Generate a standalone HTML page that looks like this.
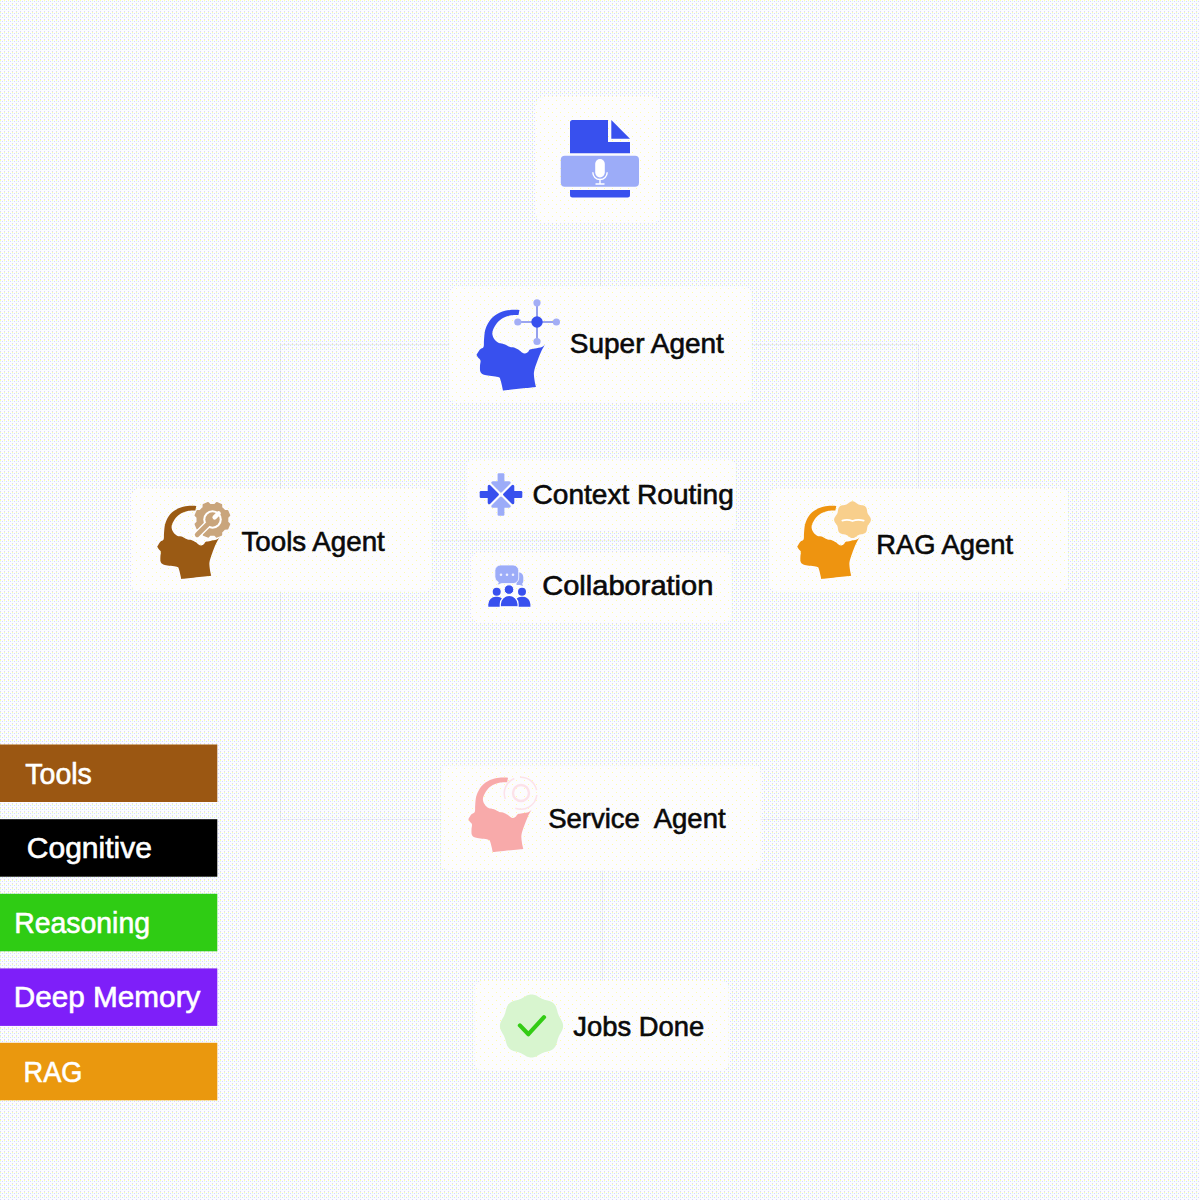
<!DOCTYPE html>
<html lang="en"><head><meta charset="utf-8"><title>Agent Flow</title>
<style>
html,body{margin:0;padding:0;background:#f5f7f9;}
body{width:1200px;height:1200px;overflow:hidden;position:relative;}
svg{display:block;position:absolute;left:0;top:0;}
text{font-family:"Liberation Sans",sans-serif;white-space:pre;}
</style></head><body>
<svg width="1200" height="1200" viewBox="0 0 1200 1200">
<defs>
<pattern id="pb" width="4" height="4" patternUnits="userSpaceOnUse" shape-rendering="crispEdges">
<rect width="4" height="4" fill="#fcfcfe"/>
<rect x="0" y="0" width="1" height="1" fill="#fffcaa"/>
<rect x="0" y="1" width="1" height="1" fill="#d6fdfd"/>
<rect x="2" y="1" width="1" height="1" fill="#d6d6ff"/>
<rect x="0" y="3" width="1" height="1" fill="#d6d6ff"/>
</pattern>
<pattern id="pc" width="8" height="8" patternUnits="userSpaceOnUse" shape-rendering="crispEdges">
<rect width="8" height="8" fill="#fcfcfe"/>
<rect x="0" y="0" width="1" height="1" fill="#fffcaa"/>
<rect x="4" y="4" width="1" height="1" fill="#fffcaa"/>
</pattern>
</defs>
<rect width="1200" height="1200" fill="url(#pb) #f5f7f9"/>

<g fill="none" stroke="rgba(90,105,160,0.09)" stroke-width="1" shape-rendering="crispEdges">
<path d="M600.5,222V287"/>
<path d="M450,344.5H280.5V819.5H442"/>
<path d="M751,344.5H918.5V819.5H760"/>
<path d="M602.5,870V982"/>
<path d="M431,540.5H770" stroke="rgba(90,105,160,0.06)"/>
</g>
<rect x="536" y="97" width="123.8" height="125.5" rx="8" fill="url(#pc) #fcfcfd"/>
<rect x="449.3" y="286.2" width="302.4" height="116.2" rx="8" fill="url(#pc) #fcfcfd"/>
<rect x="131.3" y="488.7" width="300.0" height="103.0" rx="8" fill="url(#pc) #fcfcfd"/>
<rect x="466.7" y="459.6" width="268.7" height="71.2" rx="8" fill="url(#pc) #fcfcfd"/>
<rect x="470.9" y="552.5" width="260.4" height="70.0" rx="8" fill="url(#pc) #fcfcfd"/>
<rect x="769.6" y="488.7" width="297.9" height="103.0" rx="8" fill="url(#pc) #fcfcfd"/>
<rect x="441.3" y="765.4" width="319.5" height="105.0" rx="8" fill="url(#pc) #fcfcfd"/>
<rect x="474.5" y="981" width="254.3" height="89.8" rx="8" fill="url(#pc) #fcfcfd"/>
<g fill="#3850ee">
<path d="M570,122.5a2.5,2.5 0 0 1 2.5,-2.5H608V142H630V153.2H570Z"/>
<path d="M611.3,120L630,138.7H611.3Z"/>
<path d="M570,190H630V195a2.5,2.5 0 0 1 -2.5,2.5H572.5a2.5,2.5 0 0 1 -2.5,-2.5Z"/>
</g>
<rect x="560.8" y="155.8" width="78.2" height="31" rx="4" fill="#9cacf8"/>
<rect x="595.2" y="159" width="9.6" height="18.4" rx="4.8" fill="#fff"/>
<path d="M592.8,172.3a7.2,7.2 0 0 0 14.4,0M600,179.5V183.6M595.5,184H604.5" fill="none" stroke="#fff" stroke-width="1.4"/>
<path transform="translate(460,290) scale(1)" d="M59.5,20.0C59.5,20.0 53.2,19.6 50.0,20.0C46.8,20.4 43.2,21.0 40.0,22.5C36.8,24.0 33.4,26.2 31.0,29.0C28.6,31.8 26.7,35.5 25.5,39.0C24.3,42.5 24.3,47.0 24.0,50.0C23.7,53.0 24.2,55.4 23.5,57.0C22.8,58.6 21.2,58.2 20.0,59.5C18.8,60.8 16.5,65.0 16.5,65.0C16.5,65.0 17.8,67.1 18.5,68.0C19.2,68.9 20.2,69.2 20.5,70.5C20.8,71.8 20.0,74.1 20.0,76.0C20.0,77.9 19.7,80.5 20.5,82.0C21.3,83.5 22.1,84.2 25.0,85.0C27.9,85.8 35.4,86.2 38.0,87.0C40.6,87.8 39.7,87.8 40.5,90.0C41.3,92.2 43.0,100.5 43.0,100.5C43.0,100.5 76.0,97.0 76.0,97.0C76.0,97.0 74.8,92.5 74.5,90.0C74.2,87.5 73.6,85.0 74.0,82.0C74.4,79.0 75.8,75.3 77.0,72.0C78.2,68.7 79.7,64.9 81.0,62.0C82.3,59.1 85.0,54.5 85.0,54.5C85.0,54.5 83.7,56.3 82.0,57.0C80.3,57.7 77.0,58.1 75.0,58.5C73.0,58.9 71.2,58.9 70.0,59.5C68.8,60.1 68.8,61.3 68.0,62.0C67.2,62.7 66.0,63.4 65.0,63.5C64.0,63.6 63.0,63.1 62.0,62.5C61.0,61.9 60.3,60.8 59.0,60.0C57.7,59.2 55.5,58.0 54.0,57.5C52.5,57.0 51.5,57.5 50.0,57.0C48.5,56.5 46.3,55.1 45.0,54.5C43.7,53.9 43.0,53.8 42.0,53.5C41.0,53.2 40.2,53.6 39.0,53.0C37.8,52.4 36.1,51.3 35.0,50.0C33.9,48.7 32.8,46.7 32.5,45.0C32.2,43.3 32.2,42.0 33.0,40.0C33.8,38.0 35.3,35.0 37.0,33.0C38.7,31.0 40.8,29.2 43.0,28.0C45.2,26.8 47.4,26.0 50.0,25.5C52.6,25.0 58.5,25.0 58.5,25.0C58.5,25.0 59.5,20.0 59.5,20.0Z" fill="#3850ee"/>
<g stroke="#7a88ea" stroke-width="1.6"><path d="M518,322H556M537,303V341"/></g>
<g fill="#a3aef5"><circle cx="537" cy="302.8" r="3.6"/><circle cx="517.8" cy="322" r="3.6"/><circle cx="556.4" cy="322" r="3.6"/><circle cx="537" cy="341.5" r="3.6"/></g>
<circle cx="537" cy="322" r="5.7" fill="#3850ee"/>
<text x="569.8" y="352.7" font-size="27.2" textLength="154.1" lengthAdjust="spacingAndGlyphs" fill="#0a0a0a" stroke="#0a0a0a" stroke-width="0.6" >Super Agent</text>
<path transform="translate(142.2,487.7) scale(0.909)" d="M59.5,20.0C59.5,20.0 53.2,19.6 50.0,20.0C46.8,20.4 43.2,21.0 40.0,22.5C36.8,24.0 33.4,26.2 31.0,29.0C28.6,31.8 26.7,35.5 25.5,39.0C24.3,42.5 24.3,47.0 24.0,50.0C23.7,53.0 24.2,55.4 23.5,57.0C22.8,58.6 21.2,58.2 20.0,59.5C18.8,60.8 16.5,65.0 16.5,65.0C16.5,65.0 17.8,67.1 18.5,68.0C19.2,68.9 20.2,69.2 20.5,70.5C20.8,71.8 20.0,74.1 20.0,76.0C20.0,77.9 19.7,80.5 20.5,82.0C21.3,83.5 22.1,84.2 25.0,85.0C27.9,85.8 35.4,86.2 38.0,87.0C40.6,87.8 39.7,87.8 40.5,90.0C41.3,92.2 43.0,100.5 43.0,100.5C43.0,100.5 76.0,97.0 76.0,97.0C76.0,97.0 74.8,92.5 74.5,90.0C74.2,87.5 73.6,85.0 74.0,82.0C74.4,79.0 75.8,75.3 77.0,72.0C78.2,68.7 79.7,64.9 81.0,62.0C82.3,59.1 85.0,54.5 85.0,54.5C85.0,54.5 83.7,56.3 82.0,57.0C80.3,57.7 77.0,58.1 75.0,58.5C73.0,58.9 71.2,58.9 70.0,59.5C68.8,60.1 68.8,61.3 68.0,62.0C67.2,62.7 66.0,63.4 65.0,63.5C64.0,63.6 63.0,63.1 62.0,62.5C61.0,61.9 60.3,60.8 59.0,60.0C57.7,59.2 55.5,58.0 54.0,57.5C52.5,57.0 51.5,57.5 50.0,57.0C48.5,56.5 46.3,55.1 45.0,54.5C43.7,53.9 43.0,53.8 42.0,53.5C41.0,53.2 40.2,53.6 39.0,53.0C37.8,52.4 36.1,51.3 35.0,50.0C33.9,48.7 32.8,46.7 32.5,45.0C32.2,43.3 32.2,42.0 33.0,40.0C33.8,38.0 35.3,35.0 37.0,33.0C38.7,31.0 40.8,29.2 43.0,28.0C45.2,26.8 47.4,26.0 50.0,25.5C52.6,25.0 58.5,25.0 58.5,25.0C58.5,25.0 59.5,20.0 59.5,20.0Z" fill="#9a5a14"/>
<path d="M227.41,522.18L229.35,524.15L227.46,528.71L224.70,528.73L221.33,532.10L221.31,534.86L216.75,536.75L214.78,534.81L210.02,534.81L208.05,536.75L203.49,534.86L203.47,532.10L200.10,528.73L197.34,528.71L195.45,524.15L197.39,522.18L197.39,517.42L195.45,515.45L197.34,510.89L200.10,510.87L203.47,507.50L203.49,504.74L208.05,502.85L210.02,504.79L214.78,504.79L216.75,502.85L221.31,504.74L221.33,507.50L224.70,510.87L227.46,510.89L229.35,515.45L227.41,517.42Z" fill="#c9a57c" stroke="#c9a57c" stroke-width="1.8" stroke-linejoin="round"/>
<g fill="none" stroke-linecap="round">
<circle cx="212.5" cy="519.5" r="9.3" fill="#fff"/>
<path d="M212.5,519.5L196.6,535.4" stroke="#fff" stroke-width="7.6"/>
<circle cx="212.5" cy="519.5" r="7.2" fill="#c9a57c"/>
<path d="M212.5,519.5L197.2,534.8" stroke="#c9a57c" stroke-width="4.8"/>
<path d="M214.6,517.4L218.6,513.4" stroke="#fff" stroke-width="4.4"/>
</g>
<text x="241.5" y="550.6" font-size="27.2" textLength="143.3" lengthAdjust="spacingAndGlyphs" fill="#0a0a0a" stroke="#0a0a0a" stroke-width="0.6" >Tools Agent</text>
<g transform="translate(501.0,494.5) rotate(0)"><path d="M-11.8,-8.2L-3.6000000000000014,0L-11.8,8.2Z" fill="#3850ee" stroke="#3850ee" stroke-width="3.0" stroke-linejoin="round"/><rect x="-21.3" y="-3.4" width="9.5" height="6.8" rx="1.2" fill="#3850ee"/></g>
<g transform="translate(501.0,494.5) rotate(180)"><path d="M-11.8,-8.2L-3.6000000000000014,0L-11.8,8.2Z" fill="#3850ee" stroke="#3850ee" stroke-width="3.0" stroke-linejoin="round"/><rect x="-21.3" y="-3.4" width="9.5" height="6.8" rx="1.2" fill="#3850ee"/></g>
<g transform="translate(501.0,494.5) rotate(90)"><path d="M-11.8,-8.2L-3.6000000000000014,0L-11.8,8.2Z" fill="#9cacf8" stroke="#9cacf8" stroke-width="3.0" stroke-linejoin="round"/><rect x="-21.3" y="-3.4" width="9.5" height="6.8" rx="1.2" fill="#9cacf8"/></g>
<g transform="translate(501.0,494.5) rotate(270)"><path d="M-11.8,-8.2L-3.6000000000000014,0L-11.8,8.2Z" fill="#9cacf8" stroke="#9cacf8" stroke-width="3.0" stroke-linejoin="round"/><rect x="-21.3" y="-3.4" width="9.5" height="6.8" rx="1.2" fill="#9cacf8"/></g>
<g fill="#9cacf8">
<path d="M516.5,572.5a5,5 0 0 1 6.8,4.6v3.8a4,4 0 0 1 -1.2,2.9l0.9,2.2l-3.2,-1.1h-3.3Z"/>
<path d="M500.5,565h12.6a5.6,5.6 0 0 1 5.6,5.6v7.4a5.6,5.6 0 0 1 -5.6,5.6h-11.6l-4.3,1.7l1.2,-3.2a5.6,5.6 0 0 1 -3.5,-5.2v-6.3a5.6,5.6 0 0 1 5.6,-5.6Z" stroke="#fdfdff" stroke-width="0.8"/>
</g>
<g fill="#eef0ff"><circle cx="501" cy="574.7" r="1.3"/><circle cx="507" cy="574.7" r="1.3"/><circle cx="513" cy="574.7" r="1.3"/></g>
<g fill="#3850ee">
<circle cx="496.7" cy="591.7" r="4"/><circle cx="522" cy="591.7" r="4"/>
<path d="M488.3,606.8v-2.6a7.5,7.5 0 0 1 7.5,-7.5h1.5a7.5,7.5 0 0 1 5,2v8.1Z"/>
<path d="M530.4,606.8v-2.6a7.5,7.5 0 0 0 -7.5,-7.5h-1.5a7.5,7.5 0 0 0 -5,2v8.1Z"/>
<circle cx="509" cy="589.6" r="4.8" stroke="#fff" stroke-width="1"/>
<path d="M500.3,606.8v-2.5a8.9,8.9 0 0 1 17.8,0v2.5Z" stroke="#fff" stroke-width="1.2"/>
</g>
<text x="532.5" y="503.5" font-size="27.2" textLength="201.3" lengthAdjust="spacingAndGlyphs" fill="#0a0a0a" stroke="#0a0a0a" stroke-width="0.6" >Context Routing</text>
<text x="542.2" y="595.1" font-size="27.2" textLength="171.2" lengthAdjust="spacingAndGlyphs" fill="#0a0a0a" stroke="#0a0a0a" stroke-width="0.6" >Collaboration</text>
<path transform="translate(782.2,487.7) scale(0.909)" d="M59.5,20.0C59.5,20.0 53.2,19.6 50.0,20.0C46.8,20.4 43.2,21.0 40.0,22.5C36.8,24.0 33.4,26.2 31.0,29.0C28.6,31.8 26.7,35.5 25.5,39.0C24.3,42.5 24.3,47.0 24.0,50.0C23.7,53.0 24.2,55.4 23.5,57.0C22.8,58.6 21.2,58.2 20.0,59.5C18.8,60.8 16.5,65.0 16.5,65.0C16.5,65.0 17.8,67.1 18.5,68.0C19.2,68.9 20.2,69.2 20.5,70.5C20.8,71.8 20.0,74.1 20.0,76.0C20.0,77.9 19.7,80.5 20.5,82.0C21.3,83.5 22.1,84.2 25.0,85.0C27.9,85.8 35.4,86.2 38.0,87.0C40.6,87.8 39.7,87.8 40.5,90.0C41.3,92.2 43.0,100.5 43.0,100.5C43.0,100.5 76.0,97.0 76.0,97.0C76.0,97.0 74.8,92.5 74.5,90.0C74.2,87.5 73.6,85.0 74.0,82.0C74.4,79.0 75.8,75.3 77.0,72.0C78.2,68.7 79.7,64.9 81.0,62.0C82.3,59.1 85.0,54.5 85.0,54.5C85.0,54.5 83.7,56.3 82.0,57.0C80.3,57.7 77.0,58.1 75.0,58.5C73.0,58.9 71.2,58.9 70.0,59.5C68.8,60.1 68.8,61.3 68.0,62.0C67.2,62.7 66.0,63.4 65.0,63.5C64.0,63.6 63.0,63.1 62.0,62.5C61.0,61.9 60.3,60.8 59.0,60.0C57.7,59.2 55.5,58.0 54.0,57.5C52.5,57.0 51.5,57.5 50.0,57.0C48.5,56.5 46.3,55.1 45.0,54.5C43.7,53.9 43.0,53.8 42.0,53.5C41.0,53.2 40.2,53.6 39.0,53.0C37.8,52.4 36.1,51.3 35.0,50.0C33.9,48.7 32.8,46.7 32.5,45.0C32.2,43.3 32.2,42.0 33.0,40.0C33.8,38.0 35.3,35.0 37.0,33.0C38.7,31.0 40.8,29.2 43.0,28.0C45.2,26.8 47.4,26.0 50.0,25.5C52.6,25.0 58.5,25.0 58.5,25.0C58.5,25.0 59.5,20.0 59.5,20.0Z" fill="#ee9410"/>
<path d="M870.90,519.70L870.85,520.34L870.70,520.97L870.47,521.59L870.16,522.18L869.81,522.75L869.42,523.30L869.02,523.82L868.63,524.33L868.28,524.83L867.97,525.33L867.71,525.84L867.50,526.38L867.35,526.94L867.23,527.53L867.14,528.15L867.05,528.79L866.95,529.45L866.83,530.11L866.65,530.76L866.42,531.38L866.11,531.95L865.73,532.47L865.27,532.93L864.75,533.31L864.18,533.62L863.56,533.85L862.91,534.03L862.25,534.15L861.59,534.25L860.95,534.34L860.33,534.43L859.74,534.55L859.18,534.70L858.64,534.91L858.13,535.17L857.63,535.48L857.13,535.83L856.62,536.22L856.10,536.62L855.55,537.01L854.98,537.36L854.39,537.67L853.77,537.90L853.14,538.05L852.50,538.10L851.86,538.05L851.23,537.90L850.61,537.67L850.02,537.36L849.45,537.01L848.90,536.62L848.38,536.22L847.87,535.83L847.37,535.48L846.87,535.17L846.36,534.91L845.82,534.70L845.26,534.55L844.67,534.43L844.05,534.34L843.41,534.25L842.75,534.15L842.09,534.03L841.44,533.85L840.82,533.62L840.25,533.31L839.73,532.93L839.27,532.47L838.89,531.95L838.58,531.38L838.35,530.76L838.17,530.11L838.05,529.45L837.95,528.79L837.86,528.15L837.77,527.53L837.65,526.94L837.50,526.38L837.29,525.84L837.03,525.33L836.72,524.83L836.37,524.33L835.98,523.82L835.58,523.30L835.19,522.75L834.84,522.18L834.53,521.59L834.30,520.97L834.15,520.34L834.10,519.70L834.15,519.06L834.30,518.43L834.53,517.81L834.84,517.22L835.19,516.65L835.58,516.10L835.98,515.58L836.37,515.07L836.72,514.57L837.03,514.07L837.29,513.56L837.50,513.02L837.65,512.46L837.77,511.87L837.86,511.25L837.95,510.61L838.05,509.95L838.17,509.29L838.35,508.64L838.58,508.02L838.89,507.45L839.27,506.93L839.73,506.47L840.25,506.09L840.82,505.78L841.44,505.55L842.09,505.37L842.75,505.25L843.41,505.15L844.05,505.06L844.67,504.97L845.26,504.85L845.82,504.70L846.36,504.49L846.87,504.23L847.37,503.92L847.87,503.57L848.38,503.18L848.90,502.78L849.45,502.39L850.02,502.04L850.61,501.73L851.23,501.50L851.86,501.35L852.50,501.30L853.14,501.35L853.77,501.50L854.39,501.73L854.98,502.04L855.55,502.39L856.10,502.78L856.62,503.18L857.13,503.57L857.63,503.92L858.13,504.23L858.64,504.49L859.18,504.70L859.74,504.85L860.33,504.97L860.95,505.06L861.59,505.15L862.25,505.25L862.91,505.37L863.56,505.55L864.18,505.78L864.75,506.09L865.27,506.47L865.73,506.93L866.11,507.45L866.42,508.02L866.65,508.64L866.83,509.29L866.95,509.95L867.05,510.61L867.14,511.25L867.23,511.87L867.35,512.46L867.50,513.02L867.71,513.56L867.97,514.07L868.28,514.57L868.63,515.07L869.02,515.58L869.42,516.10L869.81,516.65L870.16,517.22L870.47,517.81L870.70,518.43L870.85,519.06Z" fill="#f8cf8c"/>
<path d="M842.3,520.6Q847.5,519 852.5,521Q857.5,519 863.7,520.6" fill="none" stroke="#fff" stroke-width="1.7" stroke-linecap="round"/>
<text x="876.2" y="553.7" font-size="27.2" textLength="136.8" lengthAdjust="spacingAndGlyphs" fill="#0a0a0a" stroke="#0a0a0a" stroke-width="0.6" >RAG Agent</text>
<path transform="translate(453,759.2) scale(0.925)" d="M59.5,20.0C59.5,20.0 53.2,19.6 50.0,20.0C46.8,20.4 43.2,21.0 40.0,22.5C36.8,24.0 33.4,26.2 31.0,29.0C28.6,31.8 26.7,35.5 25.5,39.0C24.3,42.5 24.3,47.0 24.0,50.0C23.7,53.0 24.2,55.4 23.5,57.0C22.8,58.6 21.2,58.2 20.0,59.5C18.8,60.8 16.5,65.0 16.5,65.0C16.5,65.0 17.8,67.1 18.5,68.0C19.2,68.9 20.2,69.2 20.5,70.5C20.8,71.8 20.0,74.1 20.0,76.0C20.0,77.9 19.7,80.5 20.5,82.0C21.3,83.5 22.1,84.2 25.0,85.0C27.9,85.8 35.4,86.2 38.0,87.0C40.6,87.8 39.7,87.8 40.5,90.0C41.3,92.2 43.0,100.5 43.0,100.5C43.0,100.5 76.0,97.0 76.0,97.0C76.0,97.0 74.8,92.5 74.5,90.0C74.2,87.5 73.6,85.0 74.0,82.0C74.4,79.0 75.8,75.3 77.0,72.0C78.2,68.7 79.7,64.9 81.0,62.0C82.3,59.1 85.0,54.5 85.0,54.5C85.0,54.5 83.7,56.3 82.0,57.0C80.3,57.7 77.0,58.1 75.0,58.5C73.0,58.9 71.2,58.9 70.0,59.5C68.8,60.1 68.8,61.3 68.0,62.0C67.2,62.7 66.0,63.4 65.0,63.5C64.0,63.6 63.0,63.1 62.0,62.5C61.0,61.9 60.3,60.8 59.0,60.0C57.7,59.2 55.5,58.0 54.0,57.5C52.5,57.0 51.5,57.5 50.0,57.0C48.5,56.5 46.3,55.1 45.0,54.5C43.7,53.9 43.0,53.8 42.0,53.5C41.0,53.2 40.2,53.6 39.0,53.0C37.8,52.4 36.1,51.3 35.0,50.0C33.9,48.7 32.8,46.7 32.5,45.0C32.2,43.3 32.2,42.0 33.0,40.0C33.8,38.0 35.3,35.0 37.0,33.0C38.7,31.0 40.8,29.2 43.0,28.0C45.2,26.8 47.4,26.0 50.0,25.5C52.6,25.0 58.5,25.0 58.5,25.0C58.5,25.0 59.5,20.0 59.5,20.0Z" fill="#f8aaaa"/>
<g fill="none" stroke="#fce2e9" stroke-width="1.5">
<path d="M505.3,799a16,16 0 0 1 9,-20.5M520,777.2a16,16 0 0 1 16.6,13M536.8,795a16,16 0 0 1 -21.5,13.2"/>
<circle cx="521" cy="793" r="8" stroke-width="2.4"/>
</g>
<text x="548.2" y="827.8" font-size="27.2" textLength="177.4" lengthAdjust="spacingAndGlyphs" fill="#0a0a0a" stroke="#0a0a0a" stroke-width="0.6" >Service  Agent</text>
<path d="M563.10,1026.00L563.03,1027.10L562.84,1028.19L562.53,1029.26L562.13,1030.30L561.64,1031.32L561.11,1032.29L560.56,1033.25L560.01,1034.18L559.49,1035.09L559.01,1036.01L558.58,1036.94L558.20,1037.89L557.87,1038.86L557.58,1039.87L557.31,1040.90L557.03,1041.96L556.74,1043.02L556.39,1044.09L555.98,1045.13L555.49,1046.13L554.91,1047.08L554.22,1047.94L553.44,1048.72L552.58,1049.41L551.63,1049.99L550.63,1050.48L549.59,1050.89L548.52,1051.24L547.46,1051.53L546.40,1051.81L545.37,1052.08L544.36,1052.37L543.39,1052.70L542.44,1053.08L541.51,1053.51L540.59,1053.99L539.68,1054.51L538.75,1055.06L537.79,1055.61L536.82,1056.14L535.80,1056.63L534.76,1057.03L533.69,1057.34L532.60,1057.53L531.50,1057.60L530.40,1057.53L529.31,1057.34L528.24,1057.03L527.20,1056.63L526.18,1056.14L525.21,1055.61L524.25,1055.06L523.32,1054.51L522.41,1053.99L521.49,1053.51L520.56,1053.08L519.61,1052.70L518.64,1052.37L517.63,1052.08L516.60,1051.81L515.54,1051.53L514.48,1051.24L513.41,1050.89L512.37,1050.48L511.37,1049.99L510.42,1049.41L509.56,1048.72L508.78,1047.94L508.09,1047.08L507.51,1046.13L507.02,1045.13L506.61,1044.09L506.26,1043.02L505.97,1041.96L505.69,1040.90L505.42,1039.87L505.13,1038.86L504.80,1037.89L504.42,1036.94L503.99,1036.01L503.51,1035.09L502.99,1034.18L502.44,1033.25L501.89,1032.29L501.36,1031.32L500.87,1030.30L500.47,1029.26L500.16,1028.19L499.97,1027.10L499.90,1026.00L499.97,1024.90L500.16,1023.81L500.47,1022.74L500.87,1021.70L501.36,1020.68L501.89,1019.71L502.44,1018.75L502.99,1017.82L503.51,1016.91L503.99,1015.99L504.42,1015.06L504.80,1014.11L505.13,1013.14L505.42,1012.13L505.69,1011.10L505.97,1010.04L506.26,1008.98L506.61,1007.91L507.02,1006.87L507.51,1005.87L508.09,1004.92L508.78,1004.06L509.56,1003.28L510.42,1002.59L511.37,1002.01L512.37,1001.52L513.41,1001.11L514.48,1000.76L515.54,1000.47L516.60,1000.19L517.63,999.92L518.64,999.63L519.61,999.30L520.56,998.92L521.49,998.49L522.41,998.01L523.32,997.49L524.25,996.94L525.21,996.39L526.18,995.86L527.20,995.37L528.24,994.97L529.31,994.66L530.40,994.47L531.50,994.40L532.60,994.47L533.69,994.66L534.76,994.97L535.80,995.37L536.82,995.86L537.79,996.39L538.75,996.94L539.68,997.49L540.59,998.01L541.51,998.49L542.44,998.92L543.39,999.30L544.36,999.63L545.37,999.92L546.40,1000.19L547.46,1000.47L548.52,1000.76L549.59,1001.11L550.63,1001.52L551.63,1002.01L552.58,1002.59L553.44,1003.28L554.22,1004.06L554.91,1004.92L555.49,1005.87L555.98,1006.87L556.39,1007.91L556.74,1008.98L557.03,1010.04L557.31,1011.10L557.58,1012.13L557.87,1013.14L558.20,1014.11L558.58,1015.06L559.01,1015.99L559.49,1016.91L560.01,1017.82L560.56,1018.75L561.11,1019.71L561.64,1020.68L562.13,1021.70L562.53,1022.74L562.84,1023.81L563.03,1024.90Z" fill="#d8f5cf"/>
<path d="M519.9,1025.4L528.4,1034.2L544,1017.2" fill="none" stroke="#33cc14" stroke-width="4.2" stroke-linecap="round" stroke-linejoin="round"/>
<text x="573.3" y="1036.1" font-size="27.2" textLength="130.9" lengthAdjust="spacingAndGlyphs" fill="#0a0a0a" stroke="#0a0a0a" stroke-width="0.6" >Jobs Done</text>
<rect x="0" y="744.5" width="217.3" height="57.5" fill="#9b5712"/>
<text x="25.3" y="783.5" font-size="28.9" textLength="66.5" lengthAdjust="spacingAndGlyphs" fill="#ffffff" stroke="#ffffff" stroke-width="0.6" >Tools</text>
<rect x="0" y="819.2" width="217.3" height="57.5" fill="#000000"/>
<text x="26.8" y="858.2" font-size="28.9" textLength="125.1" lengthAdjust="spacingAndGlyphs" fill="#ffffff" stroke="#ffffff" stroke-width="0.6" >Cognitive</text>
<rect x="0" y="893.8" width="217.3" height="57.5" fill="#2fcc14"/>
<text x="14.2" y="932.8" font-size="28.9" textLength="135.8" lengthAdjust="spacingAndGlyphs" fill="#ffffff" stroke="#ffffff" stroke-width="0.6" >Reasoning</text>
<rect x="0" y="968.4" width="217.3" height="57.5" fill="#7e1ff9"/>
<text x="13.8" y="1007.4" font-size="28.9" textLength="186.6" lengthAdjust="spacingAndGlyphs" fill="#ffffff" stroke="#ffffff" stroke-width="0.6" >Deep Memory</text>
<rect x="0" y="1042.8" width="217.3" height="57.5" fill="#ea980e"/>
<text x="23.5" y="1081.8" font-size="28.9" textLength="58.9" lengthAdjust="spacingAndGlyphs" fill="#ffffff" stroke="#ffffff" stroke-width="0.6" >RAG</text>
</svg></body></html>
